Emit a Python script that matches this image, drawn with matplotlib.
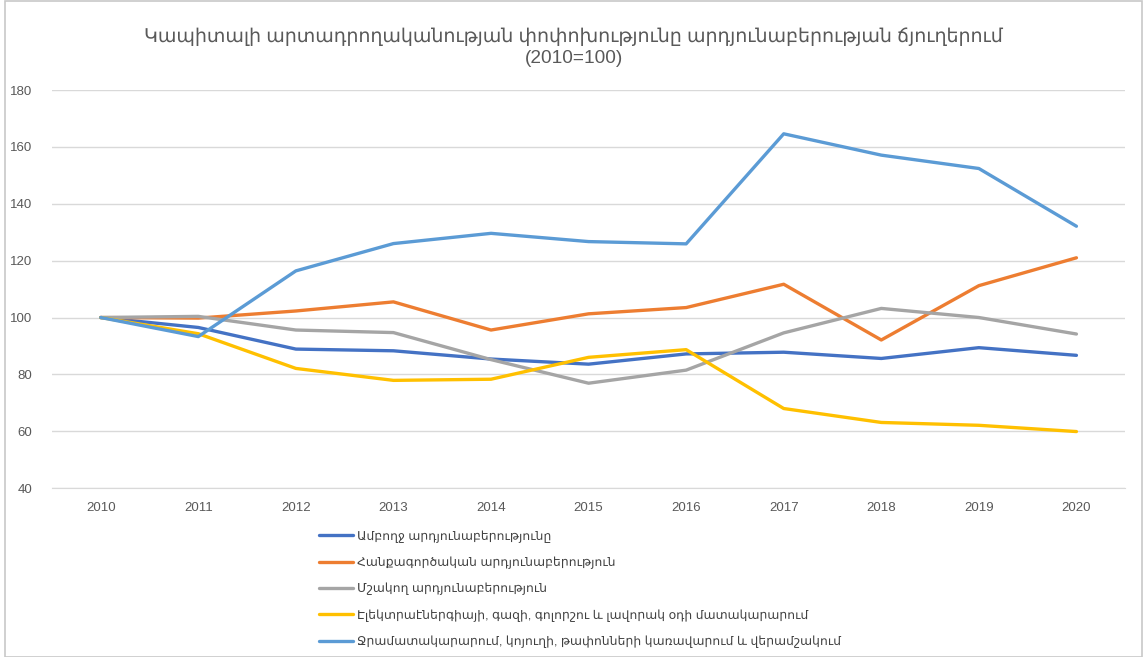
import matplotlib
matplotlib.use("Agg")
from matplotlib import pyplot as plt
from matplotlib.patches import Rectangle

plt.rcParams['font.family'] = ['Liberation Sans', 'DejaVu Sans']

years = [2010, 2011, 2012, 2013, 2014, 2015, 2016, 2017, 2018, 2019, 2020]

total = [100, 96.5, 88.9, 88.3, 85.4, 83.6, 87.2, 87.8, 85.6, 89.4, 86.7]
mining = [100, 99.8, 102.3, 105.5, 95.6, 101.3, 103.5, 111.7, 92.1, 111.2, 121.0]
manufacturing = [100, 100.4, 95.6, 94.7, 85.2, 76.9, 81.5, 94.6, 103.2, 100.0, 94.2]
electricity = [100, 94.3, 82.1, 77.9, 78.3, 86.0, 88.7, 68.0, 63.1, 62.1, 59.9]
water = [100, 93.3, 116.4, 126.0, 129.6, 126.7, 125.9, 164.6, 157.1, 152.4, 132.1]

labels = [
    "Ամբողջ արդյունաբերությունը",
    "Հանքագործական արդյունաբերություն",
    "Մշակող արդյունաբերություն",
    "Էլեկտրաէներգիայի, գազի, գոլորշու և լավորակ օդի մատակարարում",
    "Ջրամատակարարում, կոյուղի, թափոնների կառավարում և վերամշակում",
]
colors = ["#4472C4", "#ED7D31", "#A5A5A5", "#FFC000", "#5B9BD5"]

title = ("Կապիտալի արտադրողականության փոփոխությունը արդյունաբերության ճյուղերում\n"
         "(2010=100)")

fig = plt.figure(figsize=(11.47, 6.57), dpi=100)
ax = fig.add_axes([0.0453, 0.257, 0.9357, 0.606])

for series, lab, col in zip([total, mining, manufacturing, electricity, water], labels, colors):
    ax.plot(years, series, color=col, lw=2.4, label=lab, solid_capstyle='round')

ax.set_xlim(2009.5, 2020.5)
ax.set_ylim(40, 180)
ax.set_xticks(years)
ax.set_yticks(range(40, 181, 20))
ax.grid(axis='y', color='#d9d9d9', lw=1)
ax.set_axisbelow(True)
for side in ['top', 'right', 'left']:
    ax.spines[side].set_visible(False)
ax.spines['bottom'].set_color('#d9d9d9')
ax.tick_params(length=0, colors='#595959', labelsize=9.5)
ax.tick_params(axis='x', pad=10)
ax.tick_params(axis='y', pad=14)

fig.text(0.5, 0.928, title, ha='center', va='center', fontsize=13.7,
         color='#595959', linespacing=1.35)

fig.legend(loc='upper left', bbox_to_anchor=(0.268, 0.21), frameon=False,
           fontsize=8.9, handlelength=2.8, handletextpad=0.3,
           labelspacing=1.12, labelcolor='#404040')

fig.patches.append(Rectangle((0.004, 0.0), 0.992, 0.998, transform=fig.transFigure,
                             fill=False, edgecolor='#c8c8c8', lw=1.2))

fig.savefig("out.png", dpi=100)
